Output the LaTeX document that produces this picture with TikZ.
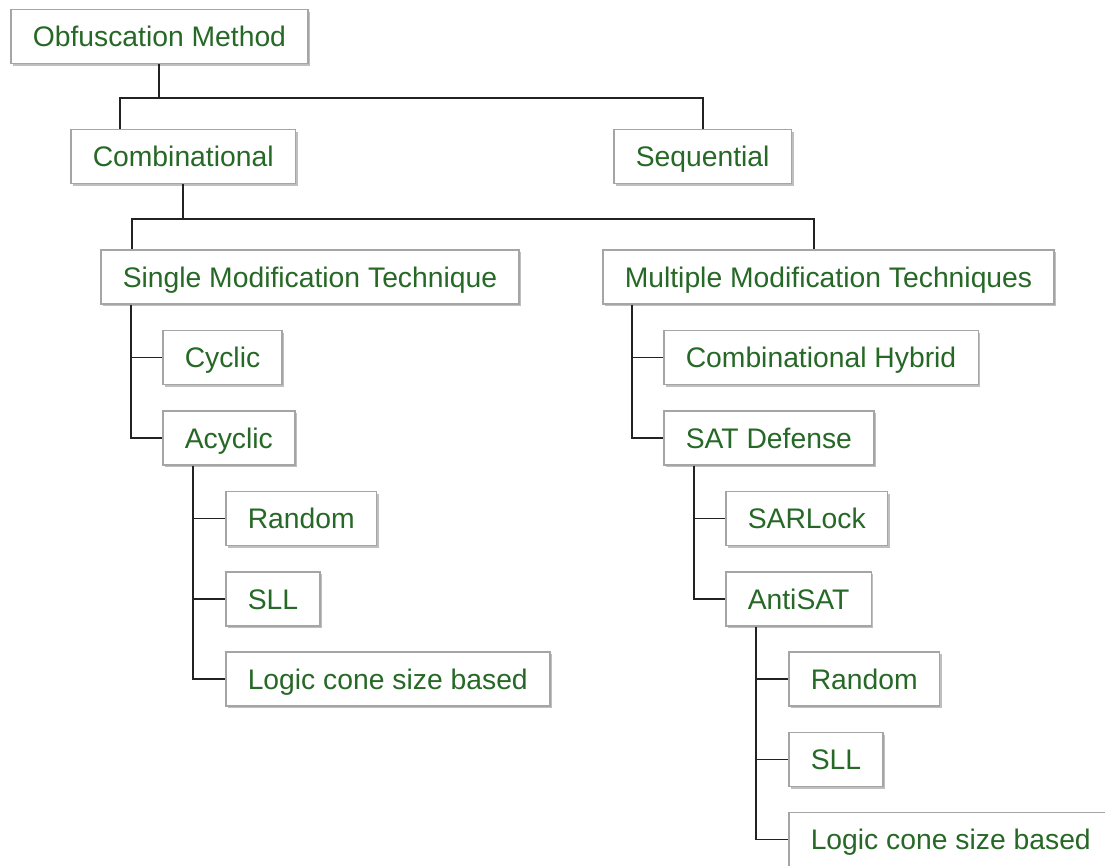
\documentclass[tikz,border=0pt]{standalone}
\usepackage{fontspec}
\setmainfont{Liberation Sans}
\usetikzlibrary{shadows}
\definecolor{txtgreen}{RGB}{38,104,38}
\definecolor{boxgray}{RGB}{165,165,165}
\definecolor{linedark}{RGB}{34,34,34}
\begin{document}
\begin{tikzpicture}[x=1pt,y=-1pt,
  box/.style={draw=boxgray, line width=1.5pt, fill=white, anchor=west,
    minimum height=54pt, inner xsep=22pt, inner ysep=0pt,
    text height=20.3pt, text depth=0pt,
    font=\fontsize{28.3}{34}\selectfont, text=txtgreen,
    drop shadow={shadow xshift=2pt, shadow yshift=-2pt, opacity=0.25, fill=black}},
  conn/.style={draw=linedark, line width=1.8pt}]
\clip (0,0) rectangle (1105,865);
\fill[white] (0,0) rectangle (1105,865);

\node[box] (obf) at (10,36.5) {Obfuscation Method};
\node[box] (comb) at (70,156.5) {Combinational};
\node[box] (seq) at (613,156.5) {Sequential};
\node[box] (single) at (100,277) {Single Modification Technique};
\node[box] (multi) at (602,277) {Multiple Modification Techniques};
\node[box] (cyclic) at (162,357.5) {Cyclic};
\node[box] (acyclic) at (162,438) {Acyclic};
\node[box] (randa) at (225,518.5) {Random};
\node[box] (slla) at (225,599) {SLL};
\node[box] (logica) at (225,679) {Logic cone size based};
\node[box] (hybrid) at (663,357.5) {Combinational Hybrid};
\node[box] (sat) at (663,438) {SAT Defense};
\node[box] (sarlock) at (725,518.5) {SARLock};
\node[box] (antisat) at (725,599) {AntiSAT};
\node[box] (randb) at (788,679) {Random};
\node[box] (sllb) at (788,759.5) {SLL};
\node[box] (logicb) at (788,839.5) {Logic cone size based};

% level 1
\draw[conn] (obf.south) -- ++(0,34) coordinate (h1) -| ([xshift=50pt]comb.north west);
\draw[conn] (h1) -| (seq.north);
% level 2
\draw[conn] (comb.south) -- ++(0,34.5) coordinate (h2) -| ([xshift=32pt]single.north west);
\draw[conn] (h2) -| ([xshift=212pt]multi.north west);
% single children
\draw[conn] ([xshift=31pt]single.south west) |- (cyclic.west);
\draw[conn] ([xshift=31pt]single.south west) |- (acyclic.west);
% acyclic children
\draw[conn] ([xshift=31pt]acyclic.south west) |- (randa.west);
\draw[conn] ([xshift=31pt]acyclic.south west) |- (slla.west);
\draw[conn] ([xshift=31pt]acyclic.south west) |- (logica.west);
% multi children
\draw[conn] ([xshift=30pt]multi.south west) |- (hybrid.west);
\draw[conn] ([xshift=30pt]multi.south west) |- (sat.west);
% sat children
\draw[conn] ([xshift=31pt]sat.south west) |- (sarlock.west);
\draw[conn] ([xshift=31pt]sat.south west) |- (antisat.west);
% antisat children
\draw[conn] ([xshift=31pt]antisat.south west) |- (randb.west);
\draw[conn] ([xshift=31pt]antisat.south west) |- (sllb.west);
\draw[conn] ([xshift=31pt]antisat.south west) |- (logicb.west);
\end{tikzpicture}
\end{document}
